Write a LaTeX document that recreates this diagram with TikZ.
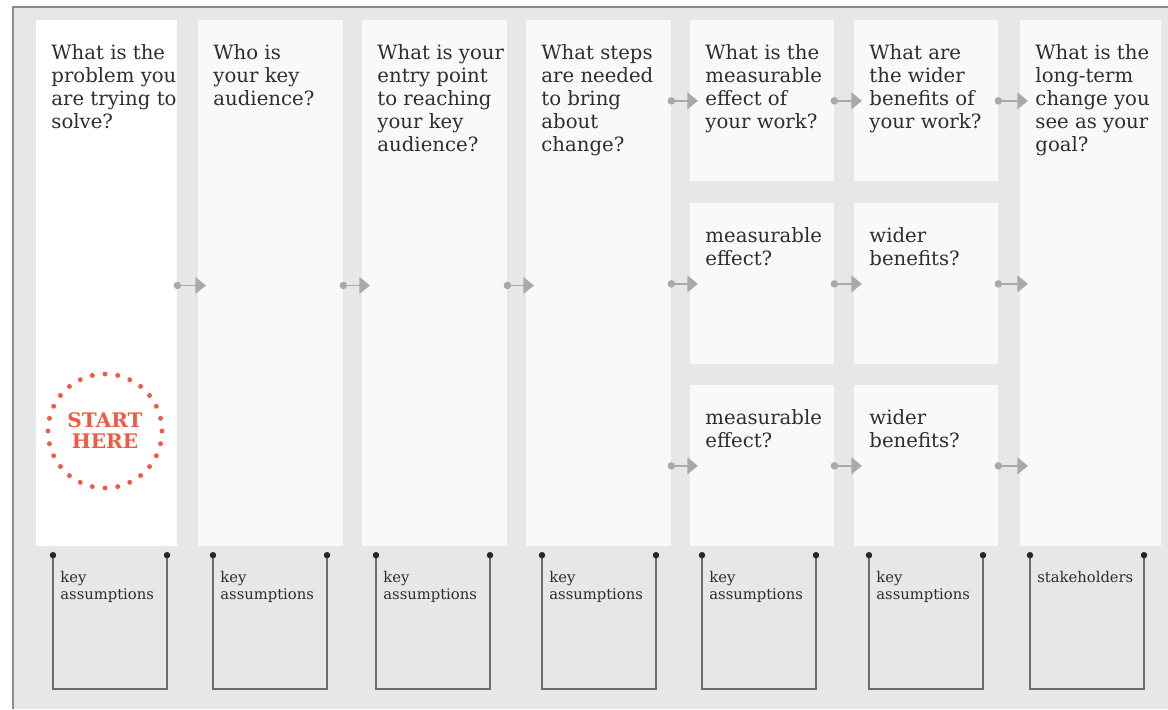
\documentclass[tikz,border=0pt]{standalone}
\usepackage{fontspec}
\setmainfont{DejaVu Serif}
\usepackage{tikz}
\usetikzlibrary{arrows.meta,positioning}
\definecolor{toc-back}{HTML}{E6E7E8}
\definecolor{toc-panel}{HTML}{F9F9F9}
\definecolor{toc-frame}{HTML}{8C8C8C}
\definecolor{toc-arrow}{HTML}{A8A9AB}
\definecolor{toc-ink}{HTML}{2E2E2E}
\definecolor{toc-start}{HTML}{EE5A44}
\tikzset{
  toc-column/.style={fill=toc-panel, inner sep=0pt, anchor=north west, minimum height=105.2mm},
  toc-cell/.style={toc-column, minimum width=28.8mm, minimum height=32.2mm},
  toc-question/.style={anchor=north west, inner sep=0pt, align=left, text=toc-ink,
    font=\fontsize{11.2}{13}\selectfont},
  toc-note/.style={anchor=north west, inner sep=0pt, align=left, text=toc-ink,
    font=\fontsize{8.4}{9.7}\selectfont},
  toc-flow/.style={draw=toc-arrow, line width=1.1pt,
    {Circle[length=4.2pt]}-{Triangle[length=6pt,width=9.5pt]},
    shorten <=-2.3pt, shorten >=-4.5pt},
  toc-bracket/.style={draw=black!58, line width=0.8pt,
    {Circle[length=3.6pt,color=black!85]}-{Circle[length=3.6pt,color=black!85]}},
  toc-badge/.style={align=center, text=toc-start, inner sep=0pt,
    font=\fontsize{11.4}{12}\selectfont\bfseries}
}

\begin{document}
\begin{tikzpicture}[x=0.2mm, y=-0.2mm]
  \useasboundingbox (0,0) rectangle (1168,709);
  \fill[toc-back] (13,7) rectangle (1168,709);
  \draw[toc-frame, line width=1.1pt] (13,709) -- (13,7) -- (1168,7);

  \node[toc-column, fill=white, minimum width=28.2mm] (c1) at (36,20) {};
  \foreach \name/\x in {c2/198, c3/362, c4/526} {
    \node[toc-column, minimum width=29mm] (\name) at (\x,20) {};
  }
  \node[toc-column, minimum width=28.2mm] (c7) at (1020,20) {};
  \foreach \name/\x/\y in {ea/690/20, eb/690/203, ec/690/385, wa/854/20, wb/854/203, wc/854/385} {
    \node[toc-cell] (\name) at (\x,\y) {};
  }

  \foreach \name/\txt in {c1/{What is the\\problem you\\are trying to\\solve?}, c2/{Who is\\your key\\audience?},
      c3/{What is your\\entry point\\to reaching\\your key\\audience?}, c4/{What steps\\are needed\\to bring\\about\\change?},
      ea/{What is the\\measurable\\effect of\\your work?}, wa/{What are\\the wider\\benefits of\\your work?},
      c7/{What is the\\long-term\\change you\\see as your\\goal?}, eb/{measurable\\effect?}, ec/{measurable\\effect?},
      wb/{wider\\benefits?}, wc/{wider\\benefits?}} {
    \node[toc-question] at ([xshift=8.6pt, yshift=-14pt]\name.north west) {\txt};
  }

  \foreach \a/\b in {c1/c2, c2/c3, c3/c4} {
    \draw[toc-flow] ([yshift=-1.2pt]\a.east) -- ([yshift=-1.2pt]\b.west);
  }
  \foreach \a/\b in {ea/wa, eb/wb, ec/wc} {
    \draw[toc-flow] (c4.east |- \a.west) -- (\a.west);
    \draw[toc-flow] (\a.east) -- (\b.west);
    \draw[toc-flow] (\b.east) -- (c7.west |- \b.east);
  }

  \node[toc-badge] (start) at (105,431) {START\\HERE};
  \foreach \k in {0,...,27} {
    \fill[toc-start] (start.center) ++(\k*360/28:57) circle[radius=1.4pt];
  }

  \foreach \i/\x/\txt in {1/53/{key\\assumptions}, 2/213/{key\\assumptions}, 3/376/{key\\assumptions},
      4/542/{key\\assumptions}, 5/702/{key\\assumptions}, 6/869/{key\\assumptions}, 7/1030/stakeholders} {
    \coordinate (kl\i) at (\x,552);
    \coordinate (kr\i) at (\x+114,552);
    \draw[toc-bracket] (kl\i) -- ++(0,137) -| (kr\i);
    \node[toc-note] (k\i) at ([xshift=4pt, yshift=-10.5pt]kl\i) {\txt};
  }
\end{tikzpicture}
\end{document}
